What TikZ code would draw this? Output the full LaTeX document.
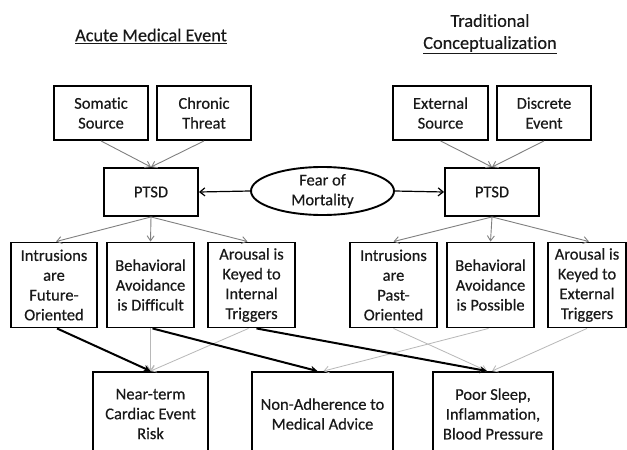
\documentclass[tikz,border=0pt]{standalone}
\usepackage{fontspec}
\setmainfont{Carlito}[Ligatures={NoCommon},FakeBold=0.4]
\usetikzlibrary{arrows.meta,shapes.geometric}
\begin{document}
\begin{tikzpicture}[x=1pt,y=-1pt,
  box/.style={draw=black,line width=1.9pt,rectangle,inner sep=0pt,align=center,
    font=\fontsize{16.5}{19.8}\selectfont,text=black!90},
  title/.style={font=\fontsize{18.3}{22}\selectfont,align=center,text=black!90},
  grayarr/.style={draw=black!50,line width=0.9pt,-{Straight Barb[length=5pt,width=7pt]}},
  lightarr/.style={draw=black!28,line width=0.8pt,-{Straight Barb[length=5pt,width=7pt]}},
  blackarr/.style={draw=black,line width=2pt,-{Stealth[length=7pt,width=7pt]}},
  fearArr/.style={draw=black,line width=1.2pt,-{Straight Barb[length=5pt,width=8pt]}}]
\clip (0,0) rectangle (627,450);
\useasboundingbox (0,0) rectangle (627,450);
\fill[white] (0,0) rectangle (627,450);

\node[title] (t1) at (151,36) {\underline{Acute Medical Event}};
\node[title] (t2) at (490,34) {Traditional\\\underline{Conceptualization}};

\node[box,minimum width=94pt,minimum height=54pt] (som) at (101,113) {Somatic\\Source};
\node[box,minimum width=94pt,minimum height=54pt] (chr) at (204,113) {Chronic\\Threat};
\node[box,minimum width=95pt,minimum height=54pt] (ext) at (440.5,113) {External\\Source};
\node[box,minimum width=94pt,minimum height=54pt] (dis) at (544,113) {Discrete\\Event};

\node[box,minimum width=94pt,minimum height=48pt] (pl) at (151,192) {PTSD};
\node[box,minimum width=94pt,minimum height=48pt] (pr) at (492,192) {PTSD};
\node[box,ellipse,minimum width=143pt,minimum height=48pt] (fear) at (322.5,191) {Fear of\\Mortality};

\node[box,minimum width=86pt,minimum height=85pt] (i1) at (54,285) {Intrusions\\are\\Future-\\Oriented};
\node[box,minimum width=87pt,minimum height=85pt] (b1) at (150.5,285) {Behavioral\\Avoidance\\is Difficult};
\node[box,minimum width=87pt,minimum height=85pt] (a1) at (251.5,285) {Arousal is\\Keyed to\\Internal\\Triggers};
\node[box,minimum width=87pt,minimum height=85pt] (i2) at (393.5,285) {Intrusions\\are\\Past-\\Oriented};
\node[box,minimum width=87pt,minimum height=85pt] (b2) at (490.5,285) {Behavioral\\Avoidance\\is Possible};
\node[box,minimum width=78pt,minimum height=85pt] (a2) at (587,285) {Arousal is\\Keyed to\\External\\Triggers};

\node[box,minimum width=115pt,minimum height=84pt] (n1) at (150.5,414) {Near-term\\Cardiac Event\\Risk};
\node[box,minimum width=141pt,minimum height=84pt] (n2) at (322.5,414) {Non-Adherence to\\Medical Advice};
\node[box,minimum width=120pt,minimum height=84pt] (n3) at (493,414) {Poor Sleep,\\Inflammation,\\Blood Pressure};

% top arrows
\draw[grayarr] (som.south) -- (pl.north);
\draw[grayarr] (chr.south) -- (pl.north);
\draw[grayarr] (ext.south) -- (pr.north);
\draw[grayarr] (dis.south) -- (pr.north);

% fear arrows
\draw[fearArr] (fear.west) -- (pl.east);
\draw[fearArr] (fear.east) -- (pr.west);

% ptsd to symptoms
\draw[grayarr] (pl.south) -- ([xshift=2pt]i1.north);
\draw[grayarr] (pl.south) -- (b1.north);
\draw[grayarr] (pl.south) -- ([xshift=-4pt]a1.north);
\draw[grayarr] (pr.south) -- (i2.north);
\draw[grayarr] (pr.south) -- (b2.north);
\draw[grayarr] (pr.south) -- ([xshift=2pt]a2.north);

% light gray to outcomes
\draw[lightarr] (b1.south) -- (n1.north);
\draw[lightarr] ([xshift=-3pt]a1.south) -- (n1.north);
\draw[lightarr] (i2.south) -- ([xshift=-6pt]n3.north);
\draw[lightarr] ([xshift=-2pt]b2.south) -- ([xshift=1pt]n2.north);
\draw[lightarr] (a2.south) -- ([xshift=-1pt]n3.north);

% black to outcomes
\draw[blackarr] ([xshift=3pt]i1.south) -- (n1.north);
\draw[blackarr] ([xshift=2pt]b1.south) -- ([xshift=-5pt]n2.north);
\draw[blackarr] ([xshift=5pt]a1.south) -- ([xshift=-6pt]n3.north);
\end{tikzpicture}
\end{document}
